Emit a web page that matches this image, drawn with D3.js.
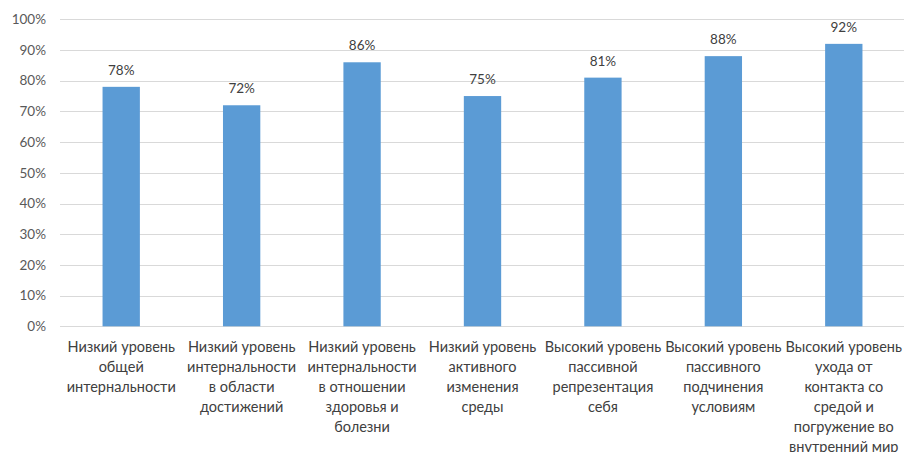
<!DOCTYPE html>
<html><head><meta charset="utf-8">
<script src="https://cdn.jsdelivr.net/npm/d3@7"></script>
<style>body{margin:0;background:#fff;}svg{display:block;}</style>
</head><body>
<svg id="c" width="904" height="452"></svg>
<script>
const categories = [
  ["Низкий уровень","общей","интернальности"],
  ["Низкий уровень","интернальности","в области","достижений"],
  ["Низкий уровень","интернальности","в отношении","здоровья и","болезни"],
  ["Низкий уровень","активного","изменения","среды"],
  ["Высокий уровень","пассивной","репрезентация","себя"],
  ["Высокий уровень","пассивного","подчинения","условиям"],
  ["Высокий уровень","ухода от","контакта со","средой и","погружение во","внутренний мир"]
];
const values = [78, 72, 86, 75, 81, 88, 92];
const yTicks = [0,10,20,30,40,50,60,70,80,90,100];

const svg = d3.select("#c");
const font = "Lato, 'Open Sans', sans-serif";
const x = d3.scaleBand().domain(d3.range(values.length)).range([61, 904]).paddingInner(0.69).paddingOuter(0.345);
const y = d3.scaleLinear().domain([0,100]).range([326.3, 19.3]);

svg.append("g").selectAll("line").data(yTicks).join("line")
  .attr("x1", 60).attr("x2", 904)
  .attr("y1", d => Math.round(y(d))+0.5).attr("y2", d => Math.round(y(d))+0.5)
  .attr("stroke", "#d9d9d9").attr("stroke-width", 1);

svg.append("g").selectAll("text").data(yTicks).join("text")
  .attr("x", 46).attr("y", d => y(d)).attr("dy", "0.35em")
  .attr("text-anchor", "end").attr("font-family", font).attr("font-size", 13.5)
  .attr("fill", "#595959").text(d => d + "%");

svg.append("g").selectAll("rect").data(values).join("rect")
  .attr("x", (d,i) => x(i)).attr("width", x.bandwidth())
  .attr("y", d => y(d)).attr("height", d => y(0) - y(d))
  .attr("fill", "#5b9bd5");

svg.append("g").selectAll("text").data(values).join("text")
  .attr("x", (d,i) => x(i) + x.bandwidth()/2).attr("y", d => y(d) - 12)
  .attr("text-anchor", "middle").attr("font-family", font).attr("font-size", 13.5)
  .attr("fill", "#404040").text(d => d + "%");

const lab = svg.append("g").selectAll("text").data(categories).join("text")
  .attr("text-anchor", "middle").attr("font-family", font).attr("font-size", 14.5)
  .attr("fill", "#404040");
lab.selectAll("tspan").data((d,i) => d.map(s => ({s, i}))).join("tspan")
  .attr("x", d => x(d.i) + x.bandwidth()/2)
  .attr("y", (d,j) => 351.5 + j*20)
  .text(d => d.s);
</script>
</body></html>
